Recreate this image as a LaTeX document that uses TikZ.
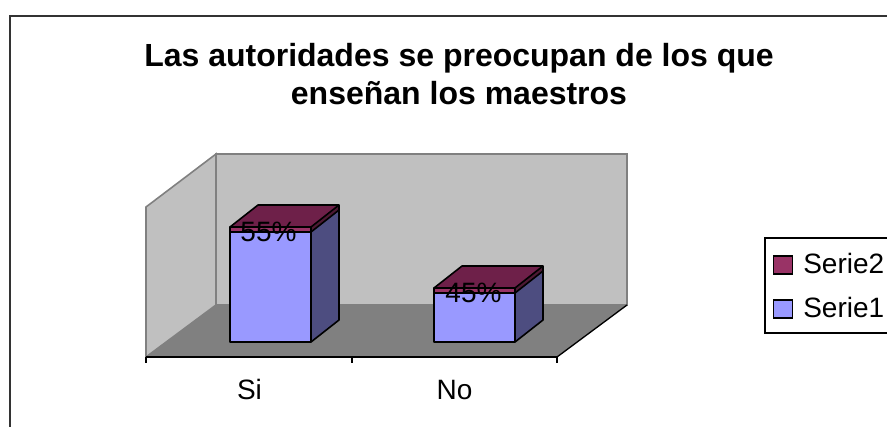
\documentclass[tikz,border=0pt]{standalone}
\usepackage{fontspec}
\setmainfont{Liberation Sans}
\definecolor{wallc}{HTML}{C0C0C0}
\definecolor{wallb}{HTML}{808080}
\definecolor{floorc}{HTML}{808080}
\definecolor{sOneF}{HTML}{9999FF}
\definecolor{sOneS}{HTML}{4D4D80}
\definecolor{sTwoF}{HTML}{993366}
\definecolor{sTwoT}{HTML}{6E2049}
\definecolor{sTwoS}{HTML}{4D1933}
\definecolor{framec}{HTML}{333333}
\tikzset{
  wall/.style={fill=wallc, draw=wallb, line width=1.2pt, line join=miter},
  barface/.style={draw=black, line width=1.2pt, line join=round},
  lbl/.style={font=\fontsize{21}{25}\selectfont, inner sep=0pt, anchor=base},
  ttl/.style={font=\fontsize{24}{29}\selectfont\bfseries, inner sep=0pt, anchor=base},
  legsq/.style={draw=black, line width=1pt, minimum width=14pt, minimum height=13.5pt, inner sep=0pt},
}
\newcommand\drawbar[4]{% x0, x1, ys (top of Serie1), yt (top)
  \fill[sOneF] (#1,342) rectangle (#2,#3);
  \fill[sTwoF] (#1,#3) rectangle (#2,#4);
  \fill[sOneS] (#2,342) -- ({#2+28},{342-22}) -- ({#2+28},{#3-22}) -- (#2,#3) -- cycle;
  \fill[sTwoS] (#2,#3) -- ({#2+28},{#3-22}) -- ({#2+28},{#4-22}) -- (#2,#4) -- cycle;
  \fill[sTwoT] (#1,#4) -- ({#1+28},{#4-22}) -- ({#2+28},{#4-22}) -- (#2,#4) -- cycle;
  \draw[barface] (#1,342) rectangle (#2,#4);
  \draw[barface] (#1,#3) -- (#2,#3) -- ({#2+28},{#3-22});
  \draw[barface] (#2,342) -- ({#2+28},{342-22}) -- ({#2+28},{#4-22}) -- ({#1+28},{#4-22}) -- (#1,#4);
  \draw[barface] (#2,#4) -- ({#2+28},{#4-22});
}
\begin{document}
\begin{tikzpicture}[x=0.75pt, y=-0.75pt]
\useasboundingbox (0,0) rectangle (887,427);
\clip (0,0) rectangle (887,427);
% outer frame
\draw[framec, line width=1.5pt] (10,440) -- (10,16.5) -- (900,16.5);
% title
\node[ttl] (title1) at (459,67) {Las autoridades se preocupan de los que};
\node[ttl] (title2) at (459,105) {enseñan los maestros};
% walls and floor
\draw[wall] (146,207) -- (216,154) -- (216,305) -- (146,357) -- cycle;
\draw[wall] (216,154) rectangle (627,305);
\fill[floorc] (146,357) -- (216,305) -- (627,305) -- (557,357) -- cycle;
\draw[black, line width=1pt] (557,357) -- (627,305);
% axis
\draw[black, line width=1pt] (146,357) -- (557,357);
\foreach \tx in {146,352,557} \draw[black, line width=1pt] (\tx,357) -- (\tx,363);
% bars
\drawbar{230}{311}{232}{227}
\drawbar{434}{515}{293}{288}
% value labels
\node[lbl] (val55) at (268.5,242) {55\%};
\node[lbl] (val45) at (473.5,302) {45\%};
% category labels
\node[lbl] (lblSi) at (249.5,399) {Si};
\node[lbl] (lblNo) at (454.5,399) {No};
% legend
\draw[black, line width=1pt] (765,238) rectangle (900,333);
\node[legsq, fill=sTwoF] (sq2) at (783,265) {};
\node[legsq, fill=sOneF] (sq1) at (783,309) {};
\node[lbl, anchor=base west] (leg2) at (803,273) {Serie2};
\node[lbl, anchor=base west] (leg1) at (803,317) {Serie1};
\end{tikzpicture}
\end{document}
